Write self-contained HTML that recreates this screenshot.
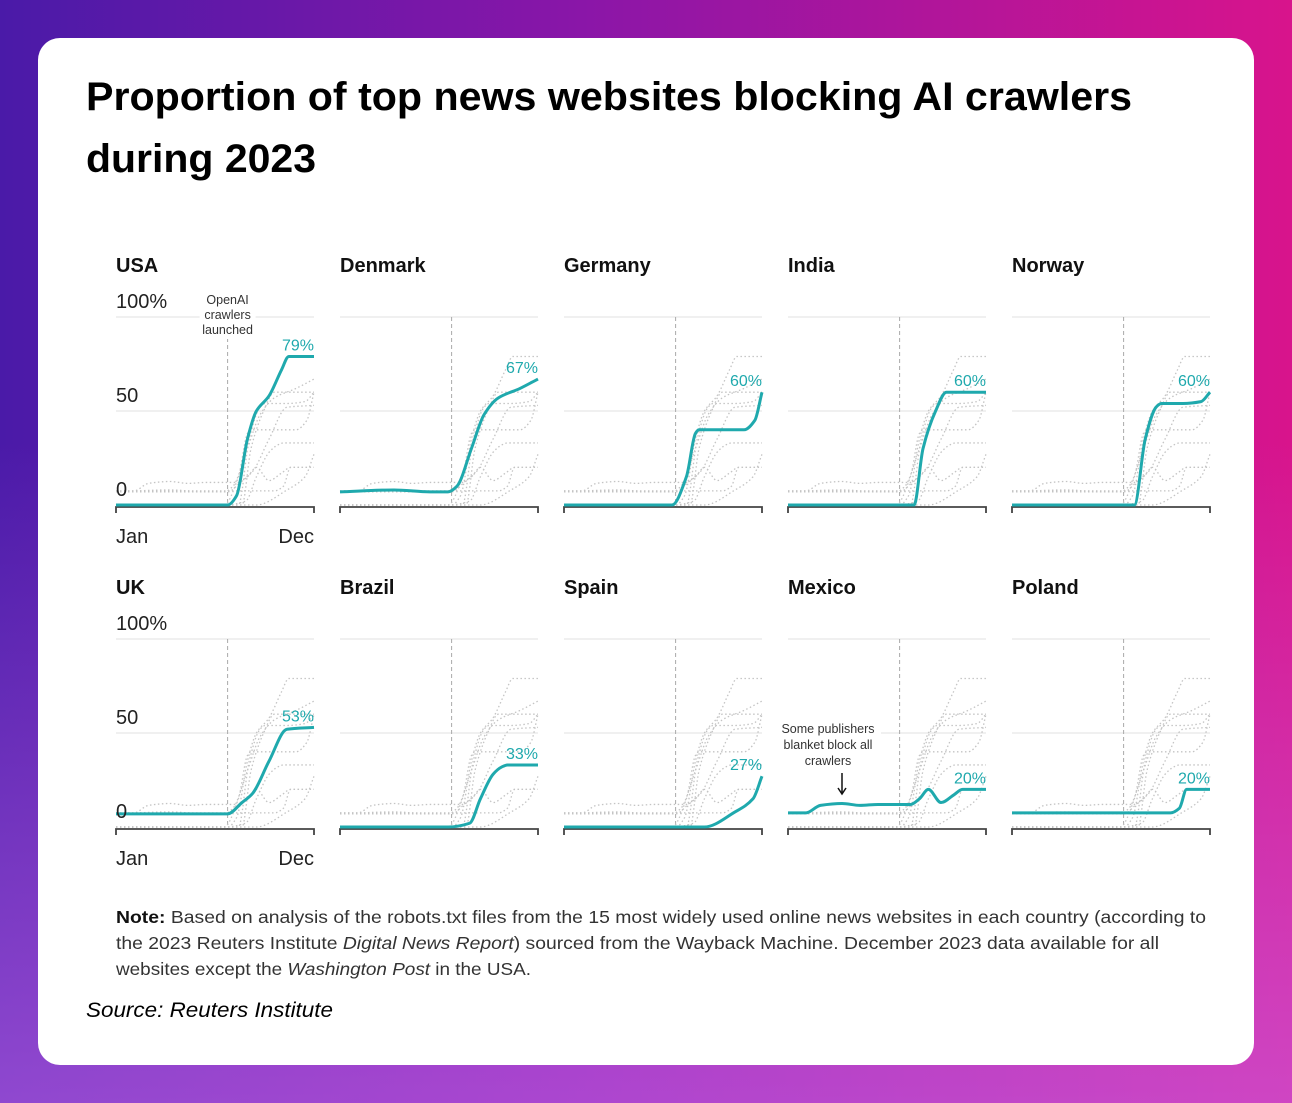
<!DOCTYPE html>
<html><head><meta charset="utf-8">
<style>
html,body{margin:0;padding:0;}
body{width:1292px;height:1103px;position:relative;overflow:hidden;font-family:"Liberation Sans",sans-serif;
background:linear-gradient(180deg,rgba(150,90,240,0) 40%,rgba(200,110,240,0.55) 100%),linear-gradient(90deg,#4a1aa8 0%,#8a16a8 45%,#d8148c 100%);}
#card{position:absolute;left:38px;top:38px;width:1216px;height:1027px;background:#fff;border-radius:22px;}
svg{position:absolute;left:0;top:0;}
</style></head>
<body>
<div id="card"></div>
<svg id="chart" width="1292" height="1103">
<text x="86" y="110" font-size="40" font-weight="bold" fill="#000" textLength="1046" lengthAdjust="spacingAndGlyphs">Proportion of top news websites blocking AI crawlers</text>
<text x="86" y="172" font-size="40" font-weight="bold" fill="#000" textLength="230" lengthAdjust="spacingAndGlyphs">during 2023</text>
<text x="116" y="923" font-size="17.5" fill="#333" textLength="1090" lengthAdjust="spacingAndGlyphs"><tspan font-weight="bold" fill="#111">Note:</tspan> Based on analysis of the robots.txt files from the 15 most widely used online news websites in each country (according to</text>
<text x="116" y="949" font-size="17.5" fill="#333" textLength="1043" lengthAdjust="spacingAndGlyphs">the 2023 Reuters Institute <tspan font-style="italic">Digital News Report</tspan>) sourced from the Wayback Machine. December 2023 data available for all</text>
<text x="116" y="975" font-size="17.5" fill="#333" textLength="415" lengthAdjust="spacingAndGlyphs">websites except the <tspan font-style="italic">Washington Post</tspan> in the USA.</text>
<text x="86" y="1017" font-size="21" font-style="italic" fill="#000" textLength="247" lengthAdjust="spacingAndGlyphs">Source: Reuters Institute</text>
</svg>
<script>
const countries = ["USA","Denmark","Germany","India","Norway","UK","Brazil","Spain","Mexico","Poland"];
const endLabels = ["79%","67%","60%","60%","60%","53%","33%","27%","20%","20%"];
const monthsUSA = [0,6.2,6.7,7.3,7.8,8.5,9.2,9.6,11];
const valsUSA = [0,0,5,35,50,58,72,79,79];
const monthsDenmark = [0,3,5,6,6.5,7.3,8,8.8,10,11];
const valsDenmark = [7,8,7,7,10,30,48,57,62,67];
const monthsGermany = [0,6,6.8,7.3,7.5,10,10.6,11];
const valsGermany = [0,0,15,38,40,40,45,60];
const monthsIndia = [0,7,7.5,8.2,8.8,11];
const valsIndia = [0,0,30,50,60,60];
const monthsNorway = [0,6.8,7.4,8,8.3,9.5,10.5,11];
const valsNorway = [0,0,35,52,54,54,55,60];
const monthsUK = [0,6.2,7,7.6,8.5,9.5,11];
const valsUK = [7,7,13,18,35,52,53];
const monthsBrazil = [0,6,7.2,7.8,8.5,9,9.3,11];
const valsBrazil = [0,0,2,15,28,32,33,33];
const monthsSpain = [0,7.8,9.5,10.5,11];
const valsSpain = [0,0,8,15,27];
const monthsMexico = [0,1,1.8,3,4,5,6.8,7.3,7.8,8.5,9.2,9.7,11];
const valsMexico = [7.5,7.5,11.5,12.5,11.5,12,12,15,20,13,17,20,20];
const monthsPoland = [0,8.8,9.3,9.7,11];
const valsPoland = [7.5,7.5,10,20,20];
const allMonths=[monthsUSA,monthsDenmark,monthsGermany,monthsIndia,monthsNorway,monthsUK,monthsBrazil,monthsSpain,monthsMexico,monthsPoland];
const allVals=[valsUSA,valsDenmark,valsGermany,valsIndia,valsNorway,valsUK,valsBrazil,valsSpain,valsMexico,valsPoland];
const launchMonth = 6.2;

const NS="http://www.w3.org/2000/svg";
const svg=document.getElementById('chart');
function mk(tag,attrs,parent){const e=document.createElementNS(NS,tag);for(const k in attrs)e.setAttribute(k,attrs[k]);(parent||svg).appendChild(e);return e;}
const W=198, H=188;
function pathFor(ms,vs,x0,y0){
  const xs=m=>x0+m/11*W, ys=v=>y0-v/100*H;
  const X=ms.map(xs), Y=vs.map(ys), n=X.length;
  const d=[],m=new Array(n);
  for(let i=0;i<n-1;i++)d.push((Y[i+1]-Y[i])/(X[i+1]-X[i]));
  m[0]=d[0];m[n-1]=d[n-2];
  for(let i=1;i<n-1;i++){ if(d[i-1]*d[i]<=0)m[i]=0; else { m[i]=3*(d[i-1]+d[i])/( (2*d[i]+d[i-1])/d[i-1]*d[i] ? (1/d[i-1]+1/d[i])*3/ (1) : 1); m[i]=2/(1/d[i-1]+1/d[i]); } }
  let s="M"+X[0]+","+Y[0];
  for(let i=0;i<n-1;i++){
    const h=(X[i+1]-X[i])/3;
    s+=" C"+(X[i]+h)+","+(Y[i]+m[i]*h)+" "+(X[i+1]-h)+","+(Y[i+1]-m[i+1]*h)+" "+X[i+1]+","+Y[i+1];
  }
  return s;
}
countries.forEach((c,i)=>{
  const col=i%5,row=Math.floor(i/5);
  const x0=116+col*224, y0=505+row*322;
  const g=mk('g',{});
  
  
  const t=mk('text',{x:x0,y:y0-233,'font-size':20,'font-weight':'bold',fill:'#111'},g);t.textContent=c;
  
  
  [100,50].forEach(v=>{const l=mk('line',{x1:x0,x2:x0+W,y1:y0-v/100*H,y2:y0-v/100*H,stroke:'#e2e2e2','stroke-width':1},g);
    
    });
  const lx=x0+launchMonth/11*W;
  const dl=mk('line',{x1:lx,x2:lx,y1:y0-H,y2:y0+2,stroke:'#aaa','stroke-width':1,'stroke-dasharray':'4,3'},g);
  
  
  countries.forEach((o,j)=>{ if(j===i)return;
    const p=mk('path',{d:pathFor(allMonths[j],allVals[j],x0,y0),fill:'none',stroke:'#c4c4c4','stroke-width':1.3,'stroke-dasharray':'1.5,2.5'},g);
    
    });
  const ax=mk('path',{d:`M${x0},${y0+8} V${y0+2} H${x0+W} V${y0+8}`,fill:'none',stroke:'#444','stroke-width':1.8},g);
  
  
  const p=mk('path',{d:pathFor(allMonths[i],allVals[i],x0,y0),fill:'none',stroke:'#1fa9ad','stroke-width':3,'stroke-linejoin':'round'},g);
  
  
  const last=allVals[i][allVals[i].length-1];
  const el=mk('text',{x:x0+W,y:y0-last/100*H-6,'font-size':16,fill:'#1fa9ad','text-anchor':'end'},g);el.textContent=endLabels[i];
  
  
  if(col===0){
    [[100,'100%'],[50,'50'],[0,'0']].forEach(([v,s])=>{const tl=mk('text',{x:x0,y:y0-v/100*H-9,'font-size':20,fill:'#222'},g);tl.textContent=s;
      
      });
    [['Jan',x0,'start'],['Dec',x0+W,'end']].forEach(([s,x,a])=>{const tl=mk('text',{x:x,y:y0+38,'font-size':20,fill:'#222','text-anchor':a},g);tl.textContent=s;
      
      });
  }
  if(c==='USA'){
    mk('rect',{x:lx-28,y:y0-214,width:56,height:48,fill:'#fff'},g);
    ['OpenAI','crawlers','launched'].forEach((s,k)=>{const tl=mk('text',{x:lx,y:y0-201+k*15,'font-size':12.5,fill:'#333','text-anchor':'middle'},g);tl.textContent=s;
      
      });
  }
  if(c==='Mexico'){
    mk('rect',{x:x0-12,y:y0-110,width:105,height:48,fill:'#fff'},g);
    ['Some publishers','blanket block all','crawlers'].forEach((s,k)=>{const tl=mk('text',{x:x0+40,y:y0-94+k*16,'font-size':12.5,fill:'#333','text-anchor':'middle'},g);tl.textContent=s;
      
      });
    const ar=mk('path',{d:`M${x0+54},${y0-54} V${y0-34} M${x0+50},${y0-39} L${x0+54},${y0-33} L${x0+58},${y0-39}`,fill:'none',stroke:'#111','stroke-width':1.5},g);
    
    
  }
});
</script>
</body></html>
